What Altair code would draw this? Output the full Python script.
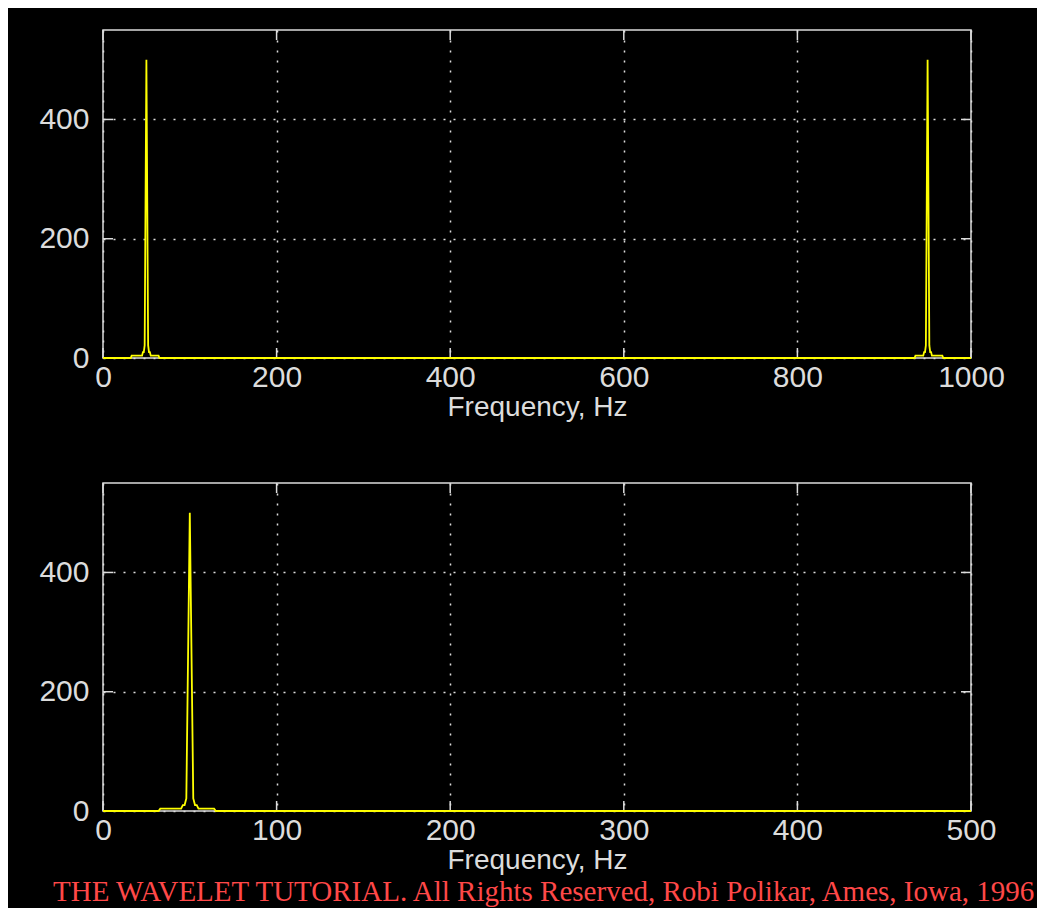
import altair as alt
import pandas as pd

# ---- data ----
top_freq = [0, 32, 33, 45, 46, 47, 48, 49, 50, 51, 52, 53, 54, 55, 64, 65,
            935, 936, 945, 946, 947, 948, 949, 950, 951, 952, 953, 954, 955, 967, 968, 1000]
top_mag = [0, 0, 4, 4, 10, 10, 21, 260, 500, 260, 21, 10, 10, 4, 4, 0,
           0, 4, 4, 10, 10, 21, 260, 500, 260, 21, 10, 10, 4, 4, 0, 0]
bot_freq = [0, 32, 33, 45, 46, 47, 48, 49, 50, 51, 52, 53, 54, 55, 64, 65, 500]
bot_mag = [0, 0, 4, 4, 10, 10, 21, 260, 500, 260, 21, 10, 10, 4, 4, 0, 0]

top_xticks = [0, 200, 400, 600, 800, 1000]
bot_xticks = [0, 100, 200, 300, 400, 500]
yticks = [0, 200, 400]
top_xmax = 1000
bot_xmax = 500
ymax = 550
x_title = "Frequency, Hz"
footer = "THE WAVELET TUTORIAL. All Rights Reserved, Robi Polikar, Ames, Iowa, 1996"

# ---- style ----
W, H = 868, 328
FG = "#dcdcdc"
YELLOW = "#ffff00"
RED = "#ff4848"
TICK = 10


def panel(freq, mag, xticks, xmax):
    df = pd.DataFrame({"f": freq, "m": mag})
    xs = alt.Scale(domain=[0, xmax], nice=False, zero=False)
    ys = alt.Scale(domain=[0, ymax], nice=False)
    xt = pd.DataFrame({"v": xticks})
    yt = pd.DataFrame({"v": yticks})

    xaxis = alt.Axis(values=xticks, title=x_title, format="d",
                     labelFont="Liberation Sans", labelFontSize=30, labelColor=FG,
                     labelPadding=4, labelFlush=False, labelOverlap=False,
                     domain=False, ticks=False, tickSize=0,
                     grid=True, gridColor=FG, gridDash=[2, 8], gridWidth=1.5,
                     titleFont="Liberation Sans", titleFontSize=28,
                     titleFontWeight="normal", titleColor=FG,
                     titleY=57, titleBaseline="alphabetic")
    yaxis = alt.Axis(values=yticks, title=None, format="d",
                     labelFont="Liberation Sans", labelFontSize=30, labelColor=FG,
                     labelPadding=14, labelFlush=False, labelOverlap=False,
                     domain=False, ticks=False, tickSize=0,
                     grid=True, gridColor=FG, gridDash=[2, 8], gridWidth=1.5)

    rule = dict(color=FG, strokeWidth=1.5)
    xb = alt.Chart(xt).mark_rule(**rule).encode(
        x=alt.X("v:Q", scale=xs, axis=xaxis), y=alt.value(H), y2=alt.value(H - TICK))
    xtp = alt.Chart(xt).mark_rule(**rule).encode(
        x=alt.X("v:Q", scale=xs, axis=xaxis), y=alt.value(0), y2=alt.value(TICK))
    yl = alt.Chart(yt).mark_rule(**rule).encode(
        y=alt.Y("v:Q", scale=ys, axis=yaxis), x=alt.value(0), x2=alt.value(TICK))
    yr = alt.Chart(yt).mark_rule(**rule).encode(
        y=alt.Y("v:Q", scale=ys, axis=yaxis), x=alt.value(W), x2=alt.value(W - TICK))
    line = alt.Chart(df).mark_line(color=YELLOW, strokeWidth=1.8).encode(
        x=alt.X("f:Q", scale=xs, axis=xaxis),
        y=alt.Y("m:Q", scale=ys, axis=yaxis),
    )
    return alt.layer(xb, xtp, yl, yr, line).properties(width=W, height=H)


top = panel(top_freq, top_mag, top_xticks, top_xmax)
bot = panel(bot_freq, bot_mag, bot_xticks, bot_xmax)

chart = alt.vconcat(top, bot, spacing=59).properties(
    background="black",
    padding={"left": 30, "top": 20, "right": 0, "bottom": 20},
    title=alt.TitleParams(footer, orient="bottom", anchor="middle",
                          font="Liberation Serif", fontSize=29,
                          fontWeight="normal", color=RED, offset=3, dx=22),
).configure_view(stroke=FG, strokeWidth=1.5, fill="black")

chart.save("out.html", embed_options={"renderer": "svg", "actions": False})
